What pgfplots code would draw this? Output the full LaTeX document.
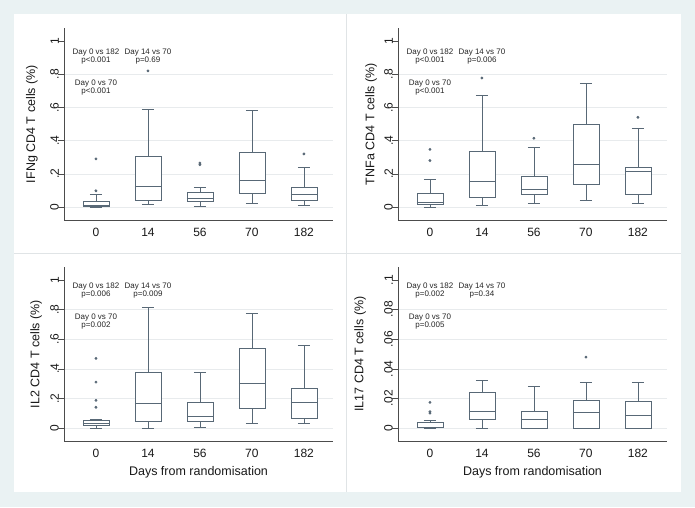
\documentclass[border=0pt]{standalone}
\usepackage{fontspec}
\setmainfont{Liberation Sans}
\usepackage{pgfplots}
\pgfplotsset{compat=1.18}
\usepgfplotslibrary{statistics}

\definecolor{bgc}{RGB}{234,242,243}
\definecolor{boxc}{RGB}{88,104,118}
\definecolor{gridc}{RGB}{232,235,237}
\definecolor{sepc}{RGB}{224,228,230}

\pgfplotsset{
  panel/.style={
    scale only axis, width=269pt, anchor=south west, clip=false,
    axis x line*=bottom, axis y line*=left,
    axis line style={draw=black!70, line width=0.6pt},
    xmin=0.385, xmax=5.56,
    xtick={1,2,3,4,5}, xticklabels={0,14,56,70,182},
    xtick style={draw=none},
    tick align=outside, major tick length=6pt,
    ytick style={draw=black!70, line width=0.6pt},
    scaled y ticks=false,
    /pgf/number format/assume math mode=true,
    tick label style={font=\fontsize{12}{14}\selectfont, text=black!90},
    xticklabel style={anchor=north, inner sep=0pt},
    yticklabel style={rotate=90, anchor=south, inner sep=0pt},
    xticklabel shift=2pt, yticklabel shift=-1pt,
    major grid style={draw=gridc, line width=0.6pt},
    extra y tick style={grid=major},
    extra y tick labels={},
    every axis y label/.style={rotate=90, anchor=center},
    every axis x label/.style={at={(axis description cs:0.5,0)}, anchor=base, yshift=-34.5pt},
    label style={font=\fontsize{12.5}{14}\selectfont, text=black!90},
  },
  statbox/.style={boxc, line width=0.6pt, mark=*, mark size=1.1pt,
    mark options={fill=boxc, draw=boxc},
    boxplot/draw direction=y,
    boxplot/box extend=0.5, boxplot/whisker extend=0.23,
    boxplot/every box/.style={fill=white}},
}
\tikzset{note/.style={font=\fontsize{8}{8.5}\selectfont, align=center, text=black!85, inner sep=0pt},
  axln/.style={draw=black!70, line width=0.6pt}}

% box: position, lower whisker, lower quartile, median, upper quartile, upper whisker, outliers
\newcommand{\drawbox}[7]{\addplot[statbox, boxplot prepared={draw position=#1, lower whisker=#2,
  lower quartile=#3, median=#4, upper quartile=#5, upper whisker=#6}] coordinates {#7};}
\newcommand{\axlines}{\draw[axln] (axis description cs:0,1) -- (axis description cs:0,0) -- (axis description cs:1,0);}

\begin{document}
\begin{tikzpicture}
\fill[bgc] (0,0) rectangle (695pt,507pt);
\fill[white] (14pt,15pt) rectangle (681pt,493pt);
\draw[sepc, line width=0.6pt] (346.5pt,15pt) -- (346.5pt,493pt);
\draw[sepc, line width=0.6pt] (14pt,253.5pt) -- (681pt,253.5pt);

% IFNg
\begin{axis}[panel, at={(64pt,287pt)}, height=192pt,
  ymin=-0.078, ymax=1.078, ytick={0,0.2,0.4,0.6,0.8,1}, yticklabels={0,.2,.4,.6,.8,1},
  extra y ticks={0,0.2,0.4,0.6,0.8},
  ylabel={IFNg CD4 T cells (\%)}, ylabel style={at={(axis description cs:-0.119,0.5)}}]
\drawbox{1}{0}{0.006}{0.012}{0.034}{0.078}{(1,0.098) (1,0.29)}
\drawbox{2}{0.016}{0.038}{0.127}{0.303}{0.59}{(2,0.82)}
\drawbox{3}{0.002}{0.032}{0.05}{0.086}{0.12}{(3,0.255) (3,0.265)}
\drawbox{4}{0.022}{0.08}{0.16}{0.327}{0.58}{}
\drawbox{5}{0.008}{0.04}{0.076}{0.116}{0.237}{(5,0.32)}
\axlines
\node[note] at (axis cs:1,0.905) {Day 0 vs 182\\p<0.001};
\node[note] at (axis cs:2,0.905) {Day 14 vs 70\\p=0.69};
\node[note] at (axis cs:1,0.72) {Day 0 vs 70\\p<0.001};
\end{axis}

% TNFa
\begin{axis}[panel, at={(398pt,287pt)}, height=192pt,
  ymin=-0.078, ymax=1.078, ytick={0,0.2,0.4,0.6,0.8,1}, yticklabels={0,.2,.4,.6,.8,1},
  extra y ticks={0,0.2,0.4,0.6,0.8},
  ylabel={TNFa CD4 T cells (\%)}, ylabel style={at={(axis description cs:-0.100,0.5)}}]
\drawbox{1}{0}{0.016}{0.03}{0.084}{0.165}{(1,0.28) (1,0.347)}
\drawbox{2}{0.012}{0.06}{0.153}{0.333}{0.673}{(2,0.777)}
\drawbox{3}{0.02}{0.074}{0.106}{0.187}{0.361}{(3,0.414)}
\drawbox{4}{0.04}{0.139}{0.257}{0.5}{0.743}{}
\drawbox{5}{0.02}{0.076}{0.213}{0.237}{0.474}{(5,0.54)}
\axlines
\node[note] at (axis cs:1,0.905) {Day 0 vs 182\\p<0.001};
\node[note] at (axis cs:2,0.905) {Day 14 vs 70\\p=0.006};
\node[note] at (axis cs:1,0.72) {Day 0 vs 70\\p<0.001};
\end{axis}

% IL2
\begin{axis}[panel, at={(64pt,66pt)}, height=174pt,
  ymin=-0.088, ymax=1.088, ytick={0,0.2,0.4,0.6,0.8,1}, yticklabels={0,.2,.4,.6,.8,1},
  extra y ticks={0,0.2,0.4,0.6,0.8},
  xlabel={Days from randomisation},
  ylabel={IL2 CD4 T cells (\%)}, ylabel style={at={(axis description cs:-0.104,0.5)}}]
\drawbox{1}{0}{0.018}{0.031}{0.054}{0.06}{(1,0.14) (1,0.187) (1,0.31) (1,0.47)}
\drawbox{2}{0}{0.047}{0.164}{0.373}{0.816}{}
\drawbox{3}{0.007}{0.045}{0.081}{0.175}{0.375}{}
\drawbox{4}{0.034}{0.133}{0.303}{0.539}{0.773}{}
\drawbox{5}{0.034}{0.067}{0.175}{0.27}{0.56}{}
\axlines
\node[note] at (axis cs:1,0.928) {Day 0 vs 182\\p=0.006};
\node[note] at (axis cs:2,0.928) {Day 14 vs 70\\p=0.009};
\node[note] at (axis cs:1,0.72) {Day 0 vs 70\\p=0.002};
\end{axis}

% IL17
\begin{axis}[panel, at={(398pt,66pt)}, height=174pt,
  ymin=-0.0088, ymax=0.1088, ytick={0,0.02,0.04,0.06,0.08,0.1}, yticklabels={0,.02,.04,.06,.08,.1},
  extra y ticks={0,0.02,0.04,0.06,0.08},
  xlabel={Days from randomisation},
  ylabel={IL17 CD4 T cells (\%)}, ylabel style={at={(axis description cs:-0.141,0.5)}}]
\drawbox{1}{0}{0.0003}{0.0008}{0.004}{0.0054}{(1,0.0100) (1,0.0110) (1,0.0173)}
\drawbox{2}{0}{0.006}{0.0115}{0.024}{0.0324}{}
\drawbox{3}{0}{0}{0.0056}{0.0115}{0.0279}{}
\drawbox{4}{0}{0}{0.0108}{0.0189}{0.031}{(4,0.0479)}
\drawbox{5}{0}{0}{0.0083}{0.018}{0.031}{}
\axlines
\node[note] at (axis cs:1,0.0928) {Day 0 vs 182\\p=0.002};
\node[note] at (axis cs:2,0.0928) {Day 14 vs 70\\p=0.34};
\node[note] at (axis cs:1,0.072) {Day 0 vs 70\\p=0.005};
\end{axis}
\end{tikzpicture}
\end{document}
